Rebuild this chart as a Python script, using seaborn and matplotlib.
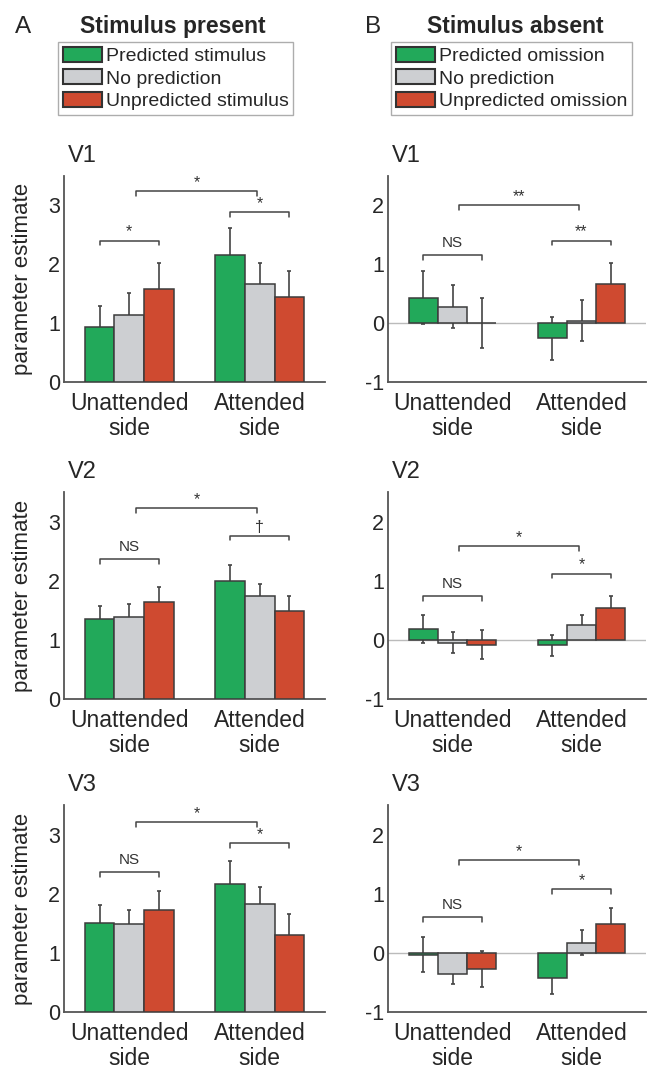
import numpy as np
import pandas as pd
import matplotlib
matplotlib.use('Agg')
import matplotlib.pyplot as plt
import seaborn as sns
from matplotlib.patches import Patch

sns.set_style('white')
plt.rcParams['font.family'] = ['Liberation Sans', 'DejaVu Sans']
plt.rcParams['axes.unicode_minus'] = False

# ---- data ----
sides = ['Unattended\nside', 'Attended\nside']
present_conditions = ['Predicted stimulus', 'No prediction', 'Unpredicted stimulus']
absent_conditions = ['Predicted omission', 'No prediction', 'Unpredicted omission']
areas = ['V1', 'V2', 'V3']

# order: unattended (pred, none, unpred), attended (pred, none, unpred)
present_v1_mean = [0.93, 1.13, 1.58, 2.15, 1.66, 1.44]
present_v1_sem = [0.36, 0.39, 0.44, 0.46, 0.37, 0.44]
present_v2_mean = [1.35, 1.39, 1.64, 1.99, 1.75, 1.48]
present_v2_sem = [0.22, 0.21, 0.25, 0.27, 0.20, 0.26]
present_v3_mean = [1.51, 1.49, 1.73, 2.16, 1.83, 1.31]
present_v3_sem = [0.30, 0.24, 0.31, 0.40, 0.28, 0.35]

absent_v1_mean = [0.43, 0.28, 0.00, -0.26, 0.04, 0.66]
absent_v1_sem = [0.45, 0.36, 0.43, 0.36, 0.35, 0.37]
absent_v2_mean = [0.18, -0.05, -0.08, -0.09, 0.25, 0.54]
absent_v2_sem = [0.24, 0.18, 0.24, 0.18, 0.17, 0.20]
absent_v3_mean = [-0.03, -0.35, -0.27, -0.42, 0.17, 0.48]
absent_v3_sem = [0.29, 0.18, 0.30, 0.28, 0.21, 0.28]

# significance brackets: (unattended pair, attended pair, across sides)
present_v1_sig = [(2.40, '*'), (2.88, '*'), (3.24, '*')]
present_v2_sig = [(2.37, 'NS'), (2.76, '\u2020'), (3.23, '*')]
present_v3_sig = [(2.37, 'NS'), (2.86, '*'), (3.21, '*')]
absent_v1_sig = [(1.16, 'NS'), (1.40, '**'), (2.00, '**')]
absent_v2_sig = [(0.74, 'NS'), (1.12, '*'), (1.58, '*')]
absent_v3_sig = [(0.60, 'NS'), (1.08, '*'), (1.57, '*')]

colors = ['#22a95a', '#cdcfd2', '#cf4a30']
edge = '#3c3c3c'

panels = [
    [(present_v1_mean, present_v1_sem, present_v1_sig), (absent_v1_mean, absent_v1_sem, absent_v1_sig)],
    [(present_v2_mean, present_v2_sem, present_v2_sig), (absent_v2_mean, absent_v2_sem, absent_v2_sig)],
    [(present_v3_mean, present_v3_sem, present_v3_sig), (absent_v3_mean, absent_v3_sem, absent_v3_sig)],
]

W, H = 647, 1068
fig = plt.figure(figsize=(W / 100, H / 100), dpi=100)

col_x = [(64, 325), (388, 646)]
row_y = [(176, 382), (492, 699), (805, 1012)]


def bracket(ax, x0, x1, y, label):
    d = 0.08
    ax.plot([x0, x0, x1, x1], [y - d, y, y, y - d], color='#444444', lw=1.1, zorder=5)
    if label == 'NS':
        ax.text((x0 + x1) / 2, y + 0.09, label, ha='center', va='bottom', fontsize=11, color='#333333')
    else:
        ax.text((x0 + x1) / 2, y + 0.02, label, ha='center', va='bottom', fontsize=11.5, color='#333333')


for r in range(3):
    for c in range(2):
        means, sems, sig = panels[r][c]
        conds = present_conditions if c == 0 else absent_conditions
        df = pd.DataFrame({
            'side': [s for s in sides for _ in range(3)],
            'condition': conds * 2,
            'value': means,
        })
        x0, x1 = col_x[c]
        yt, yb = row_y[r]
        ax = fig.add_axes([x0 / W, 1 - yb / H, (x1 - x0) / W, (yb - yt) / H])
        sns.barplot(data=df, x='side', y='value', hue='condition', order=sides, hue_order=conds,
                    palette=colors, width=0.68, errorbar=None, edgecolor=edge, linewidth=1.1,
                    saturation=1, legend=False, ax=ax, zorder=3)
        bar_conts = list(ax.containers)
        centers = [[b.get_x() + b.get_width() / 2 for b in cont] for cont in bar_conts]
        # error bars beneath the bars
        for i in range(3):
            for j in range(2):
                k = j * 3 + i
                ax.errorbar(centers[i][j], means[k], yerr=sems[k], color='#444444', lw=1.2,
                            capsize=1.2, capthick=1.2, zorder=2)
        # brackets
        bracket(ax, centers[0][0], centers[2][0], sig[0][0], sig[0][1])
        bracket(ax, centers[0][1], centers[2][1], sig[1][0], sig[1][1])
        bracket(ax, 0.05, 0.98, sig[2][0], sig[2][1])

        if c == 0:
            ax.set_ylim(0, 3.5)
            ax.set_yticks([0, 1, 2, 3])
            ax.set_ylabel('parameter estimate', fontsize=16)
            ax.yaxis.set_label_coords(-0.12, 0.5)
        else:
            ax.set_ylim(-1, 2.5)
            ax.set_yticks([-1, 0, 1, 2])
            ax.set_ylabel('')
            ax.axhline(0, color='#bbbbbb', lw=1, zorder=1)
        ax.set_xlim(-0.5, 1.5)
        ax.set_xlabel('')
        ax.tick_params(axis='both', length=0)
        ax.tick_params(axis='x', labelsize=16.5, pad=7)
        ax.tick_params(axis='y', labelsize=15.5, pad=3)
        for lab in ax.get_xticklabels():
            lab.set_linespacing(1.1)
        sns.despine(ax=ax)
        for sp in ['left', 'bottom']:
            ax.spines[sp].set_color('#555555')
            ax.spines[sp].set_linewidth(1.3)
        ax.text(0.015, 1.045, areas[r], transform=ax.transAxes, fontsize=17, ha='left', va='bottom')

# headers
fig.text(15 / W, 1 - 33 / H, 'A', fontsize=17.5, ha='left', va='baseline')
fig.text(173 / W, 1 - 33 / H, 'Stimulus present', fontsize=16.5, fontweight='bold', ha='center', va='baseline')
fig.text(365 / W, 1 - 33 / H, 'B', fontsize=17.5, ha='left', va='baseline')
fig.text(515 / W, 1 - 33 / H, 'Stimulus absent', fontsize=16.5, fontweight='bold', ha='center', va='baseline')

# legends
for conds, lx in [(present_conditions, 58), (absent_conditions, 391)]:
    handles = [Patch(facecolor=colors[i], edgecolor='#333333', linewidth=1.5, label=conds[i]) for i in range(3)]
    leg = fig.legend(handles=handles, loc='upper left', bbox_to_anchor=(lx / W, 1 - 42 / H),
                     fontsize=14, frameon=True, fancybox=False, handlelength=2.0, handleheight=0.8,
                     handletextpad=0.2, labelspacing=0.22, borderpad=0.25, borderaxespad=0)
    leg.get_frame().set_edgecolor('#999999')
    leg.get_frame().set_linewidth(1.0)

fig.savefig('out.png', dpi=100)
